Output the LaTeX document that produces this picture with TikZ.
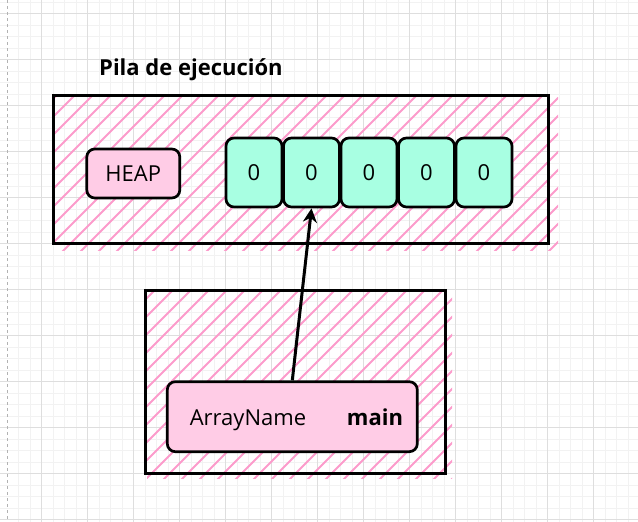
\documentclass[tikz,border=0pt]{standalone}
\usepackage{fontspec}
\setmainfont{Open Sans}
\usetikzlibrary{arrows.meta}
\definecolor{hatchpink}{RGB}{252,155,203}
\definecolor{boxpink}{RGB}{255,204,230}
\definecolor{cellmint}{RGB}{168,255,226}
\definecolor{gridminor}{RGB}{242,242,242}
\definecolor{gridmajor}{RGB}{222,222,222}
\tikzset{
	frame/.style={line width=3pt},
	hatchline/.style={hatchpink, line width=2pt},
	pinkbox/.style={draw, line width=2.7pt, rounded corners=8pt, fill=boxpink},
	cell/.style={draw, line width=2.7pt, rounded corners=8pt, fill=cellmint, minimum width=56pt, minimum height=69pt, inner sep=0pt},
	txt/.style={font=\fontsize{22}{26}\selectfont},
}
\begin{document}
\begin{tikzpicture}[x=1pt, y=-1pt]
	\useasboundingbox (0,0) rectangle (638,522);
	% grid
	\foreach \k in {1,...,54} {
		\draw [gridminor] ({6.8+11.5*\k},0) -- ({6.8+11.5*\k},522);
	}
	\foreach \k in {0,...,45} {
		\draw [gridminor] (0,{1.8+11.5*\k}) -- (638,{1.8+11.5*\k});
	}
	\foreach \k in {0,...,13} {
		\draw [gridmajor] ({41.3+46*\k},0) -- ({41.3+46*\k},522);
	}
	\foreach \k in {0,...,11} {
		\draw [gridmajor] (0,{13.3+46*\k}) -- (638,{13.3+46*\k});
	}
	\draw [gray!60, dashed] (6.8,0) -- (6.8,522);

	% stack frame
	\begin{scope}
		\clip (55,97) rectangle (558,250);
		\foreach \d in {62,80,...,740} {
			\draw [hatchline] (\d,90) -- ++(-170,170);
		}
	\end{scope}
	\draw [frame] (53,95) rectangle (548,243);

	% main frame
	\begin{scope}
		\clip (147,292) rectangle (452,478);
		\foreach \d in {160,178,...,670} {
			\draw [hatchline] (\d,285) -- ++(-200,200);
		}
	\end{scope}
	\draw [frame] (145,290) rectangle (445,473);

	\node [anchor=base west, inner sep=0pt, font=\bfseries\fontsize{22}{26}\selectfont] (title) at (99,75) {Pila de ejecución};
	\node [pinkbox, txt, minimum width=93pt, minimum height=49pt] (heap) at (133.3,173.5) {HEAP};
	\foreach \i in {1,...,5} {
		\node [cell, txt] (c\i) at ({254+57.5*(\i-1)},172.5) {0};
	}
	\node [pinkbox, minimum width=250pt, minimum height=70pt] (arrname) at (292.3,416.7) {};
	\node [txt, anchor=base] (arrlabel) at (248,425.7) {ArrayName};
	\node [anchor=base, font=\bfseries\fontsize{22}{26}\selectfont] (mainlabel) at (375,425.7) {main};

	\draw [-{Stealth[length=14pt, width=14pt]}, line width=3pt] (arrname.north) -- (c2.south);
\end{tikzpicture}
\end{document}
